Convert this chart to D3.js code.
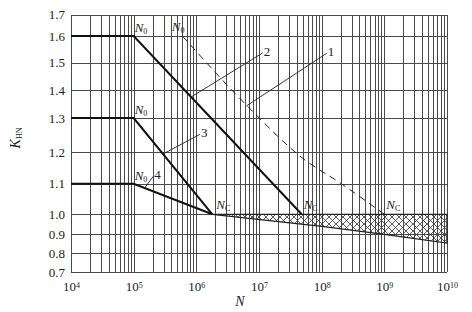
<!DOCTYPE html>
<html>
<head>
<meta charset="utf-8">
<script src="https://cdn.jsdelivr.net/npm/d3@7"></script>
<style>
  body { margin: 0; background: #fff; }
  text { font-family: "Liberation Serif", "Times New Roman", serif; fill: #222; }
</style>
</head>
<body>
<div id="chart"></div>
<script>
// tick values
const yTicks = [0.7, 0.8, 0.9, 1.0, 1.1, 1.2, 1.3, 1.4, 1.5, 1.6, 1.7];
const xTicks = [1e4, 1e5, 1e6, 1e7, 1e8, 1e9, 1e10];

// curves  [N, K_HN]
const curve1 = [[6e5, 1.6], [6.5e6, 1.343], [5.4e7, 1.175], [1.95e8, 1.103], [1e9, 1.0]];
const curve2 = [[1e4, 1.6], [1e5, 1.6], [4.8e7, 1.0]];
const curve3 = [[1e4, 1.3], [1e5, 1.3], [1.8e6, 1.0]];
const curve4 = [[1e4, 1.1], [1e5, 1.1], [1.8e6, 1.0]];
const upperLimit = [[1.8e6, 1.0], [1e10, 1.0]];
const lowerLimit = [[1.8e6, 1.0], [1e8, 0.94], [1e9, 0.90], [1e10, 0.853]];

// point labels
const n0Points = [[1e5, 1.6], [1e5, 1.3], [1e5, 1.1]];
const n0Dashed = [6e5, 1.6];
const ncPoints = [[1.8e6, 1.0], [4.8e7, 1.0], [1e9, 1.0]];

// numbered leaders
const leaderNames = ["1", "2", "3", "4"];
const leaderFrom = [[6.3e6, 1.343], [8.4e5, 1.376], [2.96e5, 1.194], [1.51e5, 1.087]];
const leaderTo = [[1.2e8, 1.535], [1.15e7, 1.537], [1.14e6, 1.252], [2.05e5, 1.123]];

const width = 472, height = 312;

const svg = d3.select("#chart")
  .append("svg")
  .attr("width", width)
  .attr("height", height);

const x = d3.scaleLog()
  .domain([1e4, 1e10])
  .range([71, 447]);

// the printed K axis is not evenly spaced, so map each tick to where it sits
const y = d3.scaleLinear()
  .domain(yTicks)
  .range([272, 253, 234.3, 214.3, 183.7, 152, 118, 90, 62.7, 36, 14.7]);

// grid
const grid = svg.append("g")
  .attr("stroke", "#4a4a4a")
  .attr("stroke-width", 1)
  .attr("shape-rendering", "crispEdges");

grid.selectAll(".vline")
  .data(x.ticks())
  .join("line")
  .attr("class", "vline")
  .attr("x1", d => Math.round(x(d)) + 0.5)
  .attr("x2", d => Math.round(x(d)) + 0.5)
  .attr("y1", y(1.7))
  .attr("y2", y(0.7));

grid.selectAll(".hline")
  .data(yTicks)
  .join("line")
  .attr("class", "hline")
  .attr("x1", x(1e4))
  .attr("x2", x(1e10))
  .attr("y1", d => Math.round(y(d)) + 0.5)
  .attr("y2", d => Math.round(y(d)) + 0.5);

// y axis
const yAxis = svg.append("g")
  .attr("transform", `translate(${x(1e4)},0)`)
  .call(d3.axisLeft(y).tickValues(yTicks).tickSize(0).tickPadding(6).tickFormat(d3.format(".1f")));
yAxis.select(".domain").remove();
yAxis.selectAll("text")
  .style("font-size", "13px")
  .style("font-family", "Liberation Serif, serif")
  .attr("fill", "#222");

// x axis with superscript exponents
const xAxis = svg.append("g")
  .attr("transform", `translate(0,${y(0.7)})`)
  .call(d3.axisBottom(x).tickValues(xTicks).tickSize(0).tickPadding(10).tickFormat(""));
xAxis.select(".domain").remove();
xAxis.selectAll(".tick text")
  .style("font-size", "13px")
  .style("font-family", "Liberation Serif, serif")
  .attr("fill", "#222")
  .each(function (d) {
    const t = d3.select(this);
    t.append("tspan").text("10");
    t.append("tspan")
      .attr("dy", "-0.45em")
      .style("font-size", "8px")
      .text(Math.round(Math.log10(d)));
  });

// axis titles
svg.append("text")
  .attr("x", 240)
  .attr("y", 306)
  .attr("text-anchor", "middle")
  .style("font-size", "14px")
  .style("font-style", "italic")
  .text("N");

const kLabel = svg.append("text")
  .attr("transform", "translate(20,138) rotate(-90)")
  .attr("text-anchor", "middle")
  .style("font-size", "14px");
kLabel.append("tspan").style("font-style", "italic").text("K");
kLabel.append("tspan").attr("dy", "0.3em").style("font-size", "8px").text("HN");

// hatched zone
const defs = svg.append("defs");
const pat = defs.append("pattern")
  .attr("id", "hatch")
  .attr("patternUnits", "userSpaceOnUse")
  .attr("width", 7)
  .attr("height", 7);
pat.append("path").attr("d", "M0,0 L7,7 M7,0 L0,7")
  .attr("stroke", "#333").attr("stroke-width", 0.8);

const line = d3.line()
  .x(d => x(d[0]))
  .y(d => y(d[1]));

svg.append("path")
  .datum(upperLimit.concat(lowerLimit.slice().reverse()))
  .attr("d", d => line(d) + "Z")
  .attr("fill", "url(#hatch)")
  .attr("stroke", "#222")
  .attr("stroke-width", 1.3);

// curves
svg.append("path")
  .datum(curve1)
  .attr("d", d3.line().x(d => x(d[0])).y(d => y(d[1])).curve(d3.curveMonotoneX))
  .attr("fill", "none")
  .attr("stroke", "#222")
  .attr("stroke-width", 1)
  .attr("stroke-dasharray", "7,5");

[curve2, curve3, curve4].forEach(c => {
  svg.append("path")
    .datum(c)
    .attr("d", line)
    .attr("fill", "none")
    .attr("stroke", "#111")
    .attr("stroke-width", 2);
});

// N0 and Nc labels
function subLabel(px, py, sub, anchor) {
  const t = svg.append("text")
    .attr("x", px)
    .attr("y", py)
    .attr("text-anchor", anchor || "start")
    .style("font-size", "13px");
  t.append("tspan").style("font-style", "italic").text("N");
  t.append("tspan").attr("dy", "0.25em").style("font-size", "8px").text(sub);
}

n0Points.forEach(p => subLabel(x(p[0]) + 1, y(p[1]) - 4, "0"));
subLabel(x(n0Dashed[0]) + 2, y(n0Dashed[1]) - 5, "0", "end");
ncPoints.forEach((p, i) => subLabel(x(p[0]) + (i === 0 ? 4 : 2), y(p[1]) - 5, "C"));

// leaders
svg.selectAll(".leader")
  .data(leaderNames)
  .join("line")
  .attr("class", "leader")
  .attr("x1", (d, i) => x(leaderFrom[i][0]))
  .attr("y1", (d, i) => y(leaderFrom[i][1]))
  .attr("x2", (d, i) => x(leaderTo[i][0]))
  .attr("y2", (d, i) => y(leaderTo[i][1]))
  .attr("stroke", "#222")
  .attr("stroke-width", 0.9);

svg.selectAll(".lname")
  .data(leaderNames)
  .join("text")
  .attr("class", "lname")
  .attr("x", (d, i) => x(leaderTo[i][0]) + 1)
  .attr("y", (d, i) => y(leaderTo[i][1]) + 3)
  .style("font-size", "13px")
  .text(d => d);
</script>
</body>
</html>
